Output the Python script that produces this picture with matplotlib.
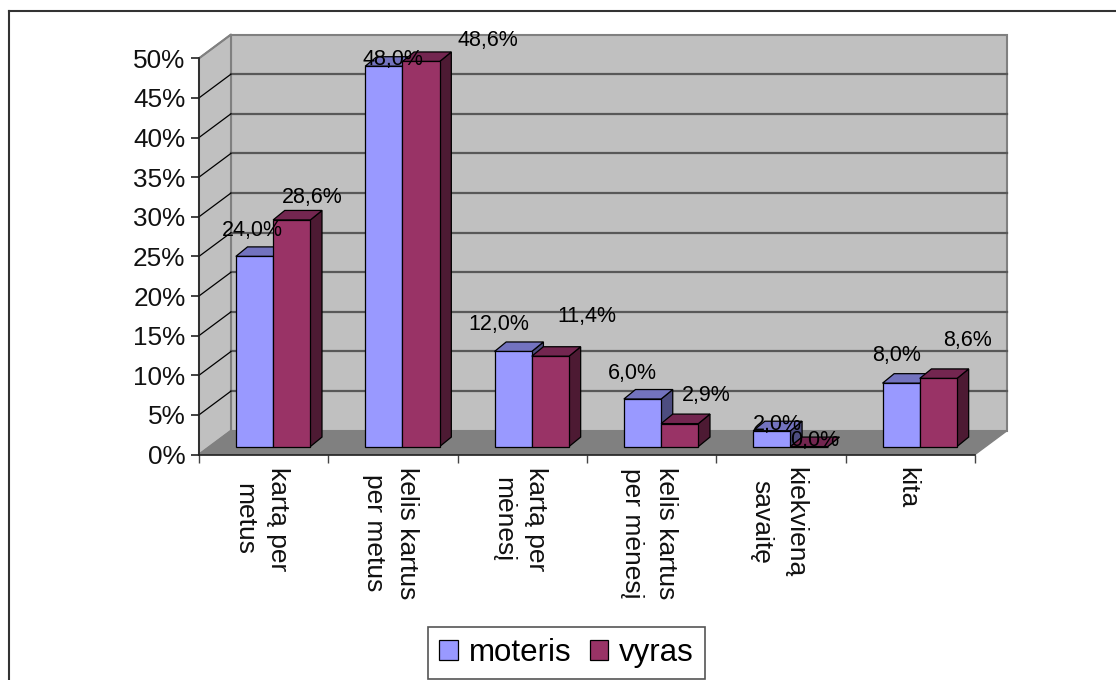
# -*- coding: utf-8 -*-
import matplotlib
matplotlib.use('Agg')
import matplotlib.pyplot as plt
from matplotlib.patches import Patch
from matplotlib.lines import Line2D

plt.rcParams['font.family'] = ['Liberation Sans', 'DejaVu Sans']

# duomenys
categories = ['kartą per\nmetus', 'kelis kartus\nper metus', 'kartą per\nmėnesį',
              'kelis kartus\nper mėnesį', 'kiekvieną\nsavaitę', 'kita']
moteris = [24.0, 48.0, 12.0, 6.0, 2.0, 8.0]
vyras = [28.6, 48.6, 11.4, 2.9, 0.0, 8.6]
moteris_labels = ['24,0%', '48,0%', '12,0%', '6,0%', '2,0%', '8,0%']
vyras_labels = ['28,6%', '48,6%', '11,4%', '2,9%', '0,0%', '8,6%']
y_ticks = [0, 5, 10, 15, 20, 25, 30, 35, 40, 45, 50]

# label offsets from the bar top, pixels
moteris_off = [(-2.5, 20), (9, 1), (-14, 21), (-10, 20), (6, 1), (-5, 22)]
vyras_off = [(21, 17), (67, 15), (36, 34), (27, 23), (6, 1), (29, 32)]

W, H = 1116, 680
fig = plt.figure(figsize=(W / 100, H / 100), dpi=100)
ax = fig.add_axes([199 / W, 1 - 454.5 / H, 776 / W, 396.2 / H])
ax.set_xlim(0, 6)
ax.set_ylim(0, 50)
ax.patch.set_visible(False)

# 3d look, in data units
wall_dx, wall_dy = 0.2474, 3.0
front_dx, front_dy = 0.0825, 1.0
bar_dx, bar_dy = 0.09, 1.2
bar_w = 0.288

grey_line = '#808080'
# back wall, side wall, floor
ax.fill([wall_dx, 6 + wall_dx, 6 + wall_dx, wall_dx], [wall_dy, wall_dy, 50 + wall_dy, 50 + wall_dy],
        fc='#C0C0C0', ec=grey_line, lw=1.5, clip_on=False, zorder=1)
ax.fill([0, wall_dx, wall_dx, 0], [0, wall_dy, 50 + wall_dy, 50],
        fc='#C0C0C0', ec=grey_line, lw=1.5, clip_on=False, zorder=1)
ax.fill([0, 6, 6 + wall_dx, wall_dx], [0, 0, wall_dy, wall_dy],
        fc='#808080', ec=grey_line, lw=1, clip_on=False, zorder=2)

# gridlines
for t in y_ticks[1:-1]:
    ax.plot([wall_dx, 6 + wall_dx], [t + wall_dy, t + wall_dy], color='#585858', lw=1.6, clip_on=False, zorder=2)
    ax.plot([0, wall_dx], [t, t + wall_dy], color='black', lw=0.9, clip_on=False, zorder=2)
ax.plot([0, wall_dx], [50, 50 + wall_dy], color='#808080', lw=1.2, clip_on=False, zorder=2)


def draw_bar(x0, value, front, top, side, z):
    x1 = x0 + bar_w
    y0 = front_dy
    y1 = front_dy + value
    ax.fill([x1, x1 + bar_dx, x1 + bar_dx, x1], [y0, y0 + bar_dy, y1 + bar_dy, y1],
            fc=side, ec='black', lw=0.9, clip_on=False, zorder=z)
    ax.fill([x0, x1, x1 + bar_dx, x0 + bar_dx], [y1, y1, y1 + bar_dy, y1 + bar_dy],
            fc=top, ec='black', lw=0.9, clip_on=False, zorder=z)
    ax.fill([x0, x1, x1, x0], [y0, y0, y1, y1],
            fc=front, ec='black', lw=0.9, clip_on=False, zorder=z)


for i in range(len(categories)):
    start = i + 0.285
    draw_bar(start, moteris[i], '#9999FF', '#7373BF', '#4D4D80', 3)
    draw_bar(start + bar_w, vyras[i], '#993366', '#732650', '#4D1A33', 4)
    ax.annotate(moteris_labels[i], (start + bar_w / 2, front_dy + moteris[i]), xytext=moteris_off[i],
                textcoords='offset pixels', ha='center', va='baseline', fontsize=15.5, color='black',
                annotation_clip=False, zorder=6)
    ax.annotate(vyras_labels[i], (start + bar_w * 1.5, front_dy + vyras[i]), xytext=vyras_off[i],
                textcoords='offset pixels', ha='center', va='baseline', fontsize=15.5, color='black',
                annotation_clip=False, zorder=6)

# axes
for s in ['top', 'right']:
    ax.spines[s].set_visible(False)
for s in ['left', 'bottom']:
    ax.spines[s].set_linewidth(1.2)
    ax.spines[s].set_color('#222222')
    ax.spines[s].set_zorder(5)
ax.set_yticks(y_ticks)
ax.set_yticklabels(['%d%%' % t for t in y_ticks], fontsize=18.8, color='#111111')
ax.tick_params(axis='y', length=5.8, width=1.2, pad=4, color='#222222')
ax.set_xticks(range(7))
ax.set_xticklabels([])
ax.tick_params(axis='x', which='major', length=6, width=1.0, color='#444444')
ax.set_xticks([i + 0.48 for i in range(6)], minor=True)
ax.set_xticklabels(categories, minor=True, rotation=-90, fontsize=19, linespacing=1.5,
                   ha='center', va='top', multialignment='center', color='#111111')
ax.tick_params(axis='x', which='minor', length=0, pad=9)

# legend
handles = [Patch(fc='#9999FF', ec='black', lw=0.9), Patch(fc='#993366', ec='black', lw=0.9)]
leg = fig.legend(handles, ['moteris', 'vyras'], ncol=2, fontsize=22.5, loc='center',
                 bbox_to_anchor=(566.5 / W, 1 - 653 / H), fancybox=False, framealpha=1,
                 edgecolor='#555555', handlelength=0.6, handleheight=0.6, handletextpad=0.35,
                 columnspacing=0.58, borderpad=0.35, borderaxespad=0)
leg.get_frame().set_linewidth(1.2)

# chart border, only top and left are in the picture
fig.add_artist(Line2D([8.5 / W, 8.5 / W], [0, 1 - 11 / H], color='#333333', lw=1.5))
fig.add_artist(Line2D([8.5 / W, 1], [1 - 11 / H, 1 - 11 / H], color='#333333', lw=1.5))

fig.savefig('out.png', dpi=100)
